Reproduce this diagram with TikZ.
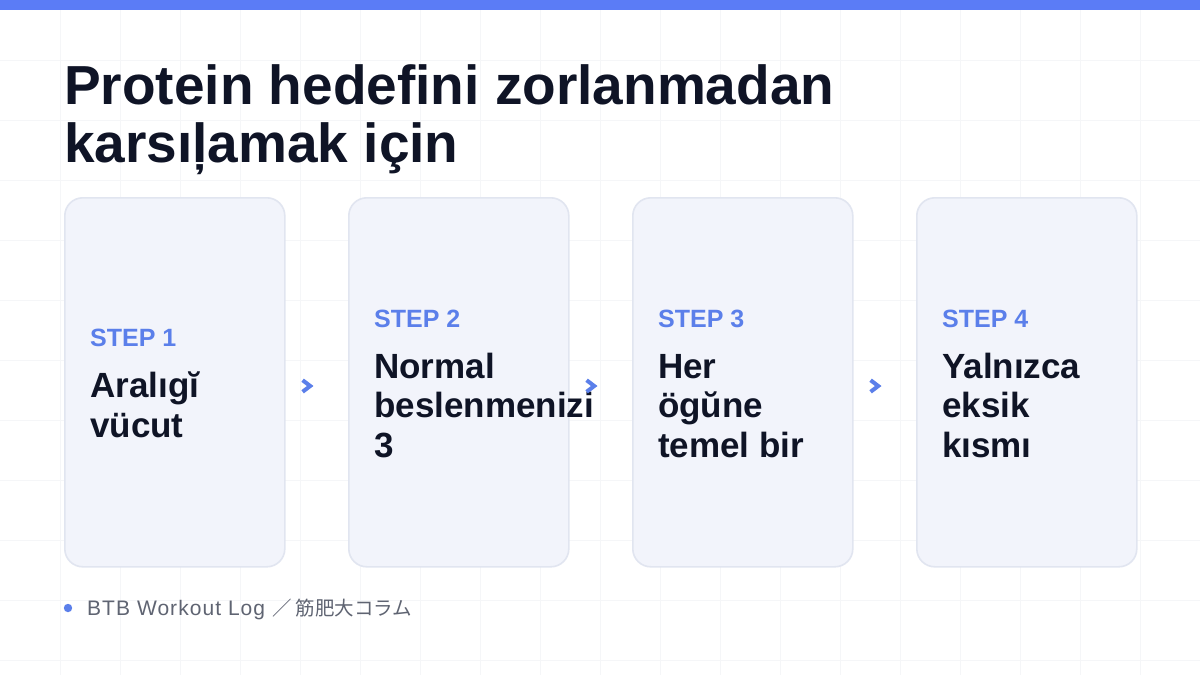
\documentclass[tikz,border=0pt]{standalone}
\usepackage{fontspec}
\setmainfont{Liberation Sans}
\newfontfamily\cjkfont{Noto Sans CJK JP}
\newfontfamily\footfont[LetterSpace=5]{Liberation Sans}
\definecolor{topbar}{HTML}{5B7CF6}
\definecolor{ink}{HTML}{0F1426}
\definecolor{stepblue}{HTML}{5B7FEA}
\definecolor{cardfill}{HTML}{F2F4FB}
\definecolor{cardline}{HTML}{E1E5F0}
\definecolor{gridc}{HTML}{F5F6F8}
\definecolor{footgray}{HTML}{5F6472}
\tikzset{
  card/.style={draw=cardline, line width=1.6pt, fill=cardfill, rounded corners=18pt,
    minimum width=220pt, minimum height=369pt, inner sep=0pt, anchor=north west},
  steplabel/.style={anchor=base west, inner sep=0pt, text=stepblue,
    font=\fontsize{25}{30}\selectfont\bfseries},
  cardtext/.style={anchor=base west, inner sep=0pt, text=ink, align=left,
    font=\fontsize{35}{39.5}\selectfont\bfseries},
  chevline/.style={draw=stepblue, line width=4pt, line join=miter},
  titletext/.style={anchor=base west, inner sep=0pt, text=ink, align=left,
    font=\fontsize{55}{58}\selectfont\bfseries},
}
\begin{document}
\begin{tikzpicture}[x=1pt,y=-1pt]
\useasboundingbox (0,0) rectangle (1200,675);
\fill[white] (0,0) rectangle (1200,675);
% grid
\foreach \gx in {60,120,...,1140} \draw[gridc, line width=0.8pt] (\gx,0) -- (\gx,675);
\foreach \gy in {60,120,...,660} \draw[gridc, line width=0.8pt] (0,\gy) -- (1200,\gy);
% top bar
\fill[topbar] (0,0) rectangle (1200,10);
% title (base anchor = baseline of last line)
\node[titletext] (title) at (64,162) {Protein hedefini zorlanmadan\\karsıļamak için};
% cards
\node[card] (c1) at (64,197) {};
\node[card] (c2) at (348,197) {};
\node[card] (c3) at (632,197) {};
\node[card] (c4) at (916,197) {};
% card 1
\node[steplabel] (s1) at (90,346) {STEP 1};
\node[cardtext] (t1) at (90,437) {Aralıgĭ\\vücut};
% card 2
\node[steplabel] (s2) at (374,327) {STEP 2};
\node[cardtext] (t2) at (374,457) {Normal\\beslenmenizi\\3};
% card 3
\node[steplabel] (s3) at (658,327) {STEP 3};
\node[cardtext] (t3) at (658,457) {Her\\ögŭne\\temel bir};
% card 4
\node[steplabel] (s4) at (942,327) {STEP 4};
\node[cardtext] (t4) at (942,457) {Yalnızca\\eksik\\kısmı};
% chevrons
\foreach \n/\cx in {a1/307,a2/591,a3/875}{
  \coordinate (\n) at (\cx,386);
  \draw[chevline] ([xshift=-4.4pt,yshift=5.8pt]\n) -- ([xshift=3.2pt]\n) -- ([xshift=-4.4pt,yshift=-5.8pt]\n);
}
% footer
\fill[stepblue] (68,608) circle (4.2pt);
\node[anchor=base west, inner sep=0pt, text=footgray, font=\footfont\fontsize{21}{24}\selectfont] (foot) at (87,615) {BTB Workout Log {\cjkfont\fontsize{19.5}{22}\selectfont ／ 筋肥大コラム}};
\end{tikzpicture}
\end{document}
